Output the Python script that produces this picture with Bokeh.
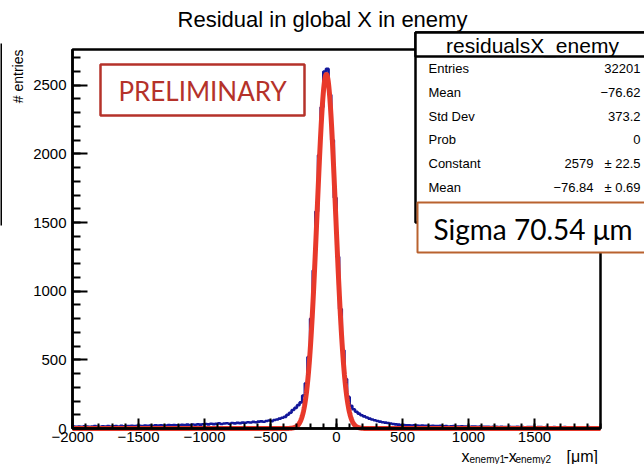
import numpy as np
from bokeh.plotting import figure
from bokeh.models import Label, BoxAnnotation, FixedTicker, Range1d
from bokeh.embed import file_html
from bokeh.resources import INLINE

# ---------------- data ----------------
bin_low = -2000
bin_high = 2000
bin_width = 20
counts = [
    14, 12, 15, 13, 16, 14, 12, 15, 17, 14, 13, 16, 15, 18, 14, 16, 17, 15, 19, 16, 18, 17, 20, 18, 19,
    20, 18, 21, 19, 22, 20, 23, 21, 24, 22, 21, 25, 23, 26, 24, 22, 27, 25, 28, 26, 29, 27, 30, 28, 31,
    33, 30, 35, 32, 34, 37, 33, 36, 38, 35, 40, 37, 41, 39, 43,
    42, 46, 44, 48, 45, 50, 52, 49, 55, 58, 54, 62, 66, 72, 78,
    85, 100, 115, 135, 150, 170, 190, 240, 330,
    520, 800, 1150, 1580, 1990, 2340, 2600, 2620, 2430, 2100, 1680, 1250, 870, 570, 360, 230,
    165, 140, 122, 108, 96, 88, 80, 72, 65, 60, 55, 50, 46, 43, 40, 36, 33, 30, 28, 26,
    25, 24, 23, 22, 23, 21, 20, 22, 19, 20, 18, 19, 17, 18, 19, 16, 17, 15, 16, 17, 15, 14, 16, 15, 14,
    13, 15, 14, 12, 14, 13, 12, 13, 11, 12, 13, 11, 12, 10, 11, 12, 10, 11, 12, 10, 11, 9, 10, 11, 10,
    9, 10, 11, 9, 10, 8, 9, 10, 9, 8, 9, 10, 8, 9, 8, 9, 7, 8, 9, 8, 10, 9, 8, 9, 8,
]
fit_constant = 2579
fit_mean = -76.84
fit_sigma = 70.54

x_major_ticks = [-2000, -1500, -1000, -500, 0, 500, 1000, 1500]
y_major_ticks = [0, 500, 1000, 1500, 2000, 2500]
y_max = 2760

title_text = "Residual in global X in enemy"
y_title = "# entries"
stats_title = "residualsX_enemy"
stats_names = ["Entries", "Mean", "Std Dev", "Prob", "Constant", "Mean"]
stats_values = ["32201", "\u221276.62", "373.2", "0", "2579", "\u221276.84"]
stats_errors = ["", "", "", "", "\u00b1 22.5", "\u00b1 0.69"]
sigma_text = "Sigma 70.54 \u03bcm"
prelim_text = "PRELIMINARY"

# ---------------- layout (pixels) ----------------
W, H = 644, 464
AX_L, AX_R = 72, 600      # pixel columns of x = bin_low, bin_high
AX_B, AX_T = 428, 49      # pixel rows of y = 0, y_max

kx = (AX_R - AX_L) / (bin_high - bin_low)
ky = (AX_B - AX_T) / y_max
x_start = bin_low - AX_L / kx
x_end = bin_high + (W - AX_R) / kx
y_start = 0 - (H - AX_B) / ky
y_end = y_max + AX_T / ky

p = figure(width=W, height=H, x_range=Range1d(x_start, x_end), y_range=Range1d(y_start, y_end),
           output_backend="svg", toolbar_location=None, min_border=0,
           min_border_left=0, min_border_right=0, min_border_top=0, min_border_bottom=0)
p.xgrid.visible = False
p.ygrid.visible = False
p.outline_line_color = None
p.background_fill_color = "white"
p.border_fill_color = "white"

FONT = "Liberation Sans"

for ax in (p.xaxis[0], p.yaxis[0]):
    ax.axis_line_width = 2.5
    ax.axis_line_color = "black"
    ax.major_tick_line_width = 2
    ax.minor_tick_line_width = 2
    ax.major_tick_out = 0
    ax.minor_tick_out = 0
    ax.major_label_text_font = FONT
    ax.major_label_text_font_size = "15px"
    ax.major_label_text_color = "black"

p.xaxis.fixed_location = 0
p.xaxis.bounds = (bin_low, bin_high)
p.yaxis.fixed_location = bin_low
p.yaxis.bounds = (0, y_max)
p.xaxis.ticker = FixedTicker(ticks=x_major_ticks, minor_ticks=list(range(bin_low, bin_high + 1, 100)))
p.yaxis.ticker = FixedTicker(ticks=y_major_ticks, minor_ticks=list(range(0, 2701, 100)))
p.xaxis.major_tick_in = 10
p.xaxis.minor_tick_in = 5
p.yaxis.major_tick_in = 15
p.yaxis.minor_tick_in = 8
p.xaxis.major_label_standoff = 3
p.yaxis.major_label_standoff = 6

# histogram as steps
edges = np.arange(bin_low, bin_high + bin_width, bin_width)
xs = np.repeat(edges, 2)[1:-1]
ys = np.repeat(np.array(counts, dtype=float), 2)
p.line(xs, ys, line_color="#12179a", line_width=2.6)

# gaussian fit
xf = np.linspace(bin_low, bin_high, 2001)
yf = fit_constant * np.exp(-0.5 * ((xf - fit_mean) / fit_sigma) ** 2)
p.line(xf, yf, line_color="#e8392b", line_width=5)

# frame border (top / right)
p.add_layout(BoxAnnotation(left=bin_low, right=bin_high, bottom=0, top=y_max,
                           fill_alpha=0, line_color="black", line_alpha=1.0, line_width=2.5))


# image coordinates -> screen coordinates (frame == canvas)
def sx(ix):
    return ix


def sy(iy):
    return H - iy


def lab(x, y, text, size, align="left", baseline="middle", color="black", font=FONT, angle=0):
    p.add_layout(Label(x=x, y=y, x_units="screen", y_units="screen", text=text,
                       text_font=font, text_font_size=size, text_align=align,
                       text_baseline=baseline, text_color=color, angle=angle))


def box(l, r, t, b, color, width, fill="white"):
    p.add_layout(BoxAnnotation(left=sx(l), right=sx(r), top=sy(t), bottom=sy(b),
                               left_units="screen", right_units="screen",
                               top_units="screen", bottom_units="screen",
                               fill_color=fill, fill_alpha=1.0,
                               line_color=color, line_width=width, line_alpha=1.0))


# left edge line seen in the reference
box(-2, 1.5, 43, 225, "black", 0, fill="black")

# title and axis titles
lab(sx(322), sy(19), title_text, "22px", align="center")
lab(sx(17), sy(49), y_title, "14px", align="right", angle=np.pi / 2)
lab(sx(461), sy(456), "x", "16px", baseline="alphabetic")
lab(sx(469), sy(459), "enemy1", "10px", baseline="alphabetic")
lab(sx(503), sy(456), "-x", "16px", baseline="alphabetic")
lab(sx(515), sy(459), "enemy2", "10px", baseline="alphabetic")
lab(sx(566), sy(456), "[\u03bcm]", "16px", baseline="alphabetic")

# PRELIMINARY box
box(100, 304, 64, 115, "#b5322a", 2.5)
lab(sx(202), sy(90), prelim_text, "26px", align="center", color="#b5322a", font="Lato")

# stats box
box(415, 660, 32, 222, "black", 2.5)
box(415, 660, 32, 56, "black", 2.5)
lab(sx(532), sy(45), stats_title, "21px", align="center")
row_y = [68, 92, 116, 139, 163, 187]
for name, val, err, ry in zip(stats_names, stats_values, stats_errors, row_y):
    lab(sx(428), sy(ry), name, "13px")
    if err:
        lab(sx(593), sy(ry), val, "13px", align="right")
        lab(sx(640), sy(ry), err, "13px", align="right")
    else:
        lab(sx(640), sy(ry), val, "13px", align="right")

# sigma box
box(417, 660, 202, 252, "#b9622f", 2)
lab(sx(433), sy(228), sigma_text, "28px", font="Lato")

open("out.html", "w").write(file_html(p, INLINE))
